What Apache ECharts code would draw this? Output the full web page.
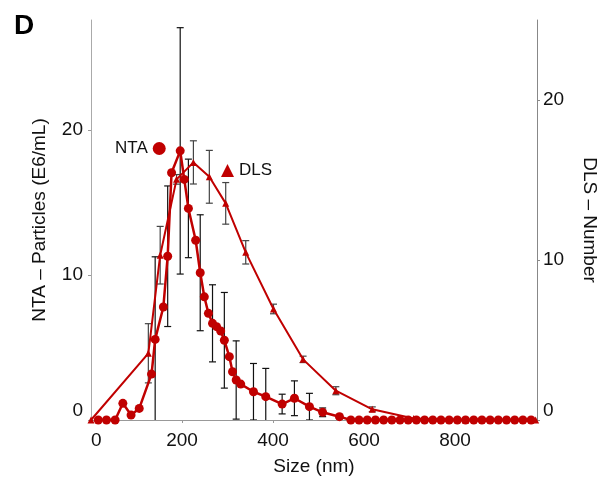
<!DOCTYPE html>
<html><head><meta charset="utf-8">
<script src="https://cdn.jsdelivr.net/npm/echarts@6/dist/echarts.min.js"></script>
<style>html,body{margin:0;padding:0;background:#fff}#c{width:610px;height:485px}</style>
</head><body><div id="c"></div>
<script>
const xTicks = [0, 200, 400, 600, 800];
const ntaX = [16,34,53,70,88,106,133,141,159,168.5,177,196,205,214,230,240,249,258,267,276,285,293,304,311,319,329,357,384,420,447,480,509,546,571,589,607,625,643,661,679,697,715,733,751,769,787,805,823,841,859,877,895,913,931,949,967];
const ntaY = [0,0,0,1.15,0.34,0.8,3.17,5.56,7.8,11.3,17.06,18.57,16.6,14.6,12.4,10.16,8.5,7.36,6.67,6.44,6.14,5.5,4.37,3.33,2.76,2.48,1.95,1.61,1.1,1.5,0.92,0.53,0.23,0,0,0,0,0,0,0,0,0,0,0,0,0,0,0,0,0,0,0,0,0,0,0];
const ntaErr = [0,0,0,0,0,0,0,5.7,0,4.85,0,8.5,0,3.4,0,4,0,0,2.66,0,0,3.3,0,0,2.7,0,1.95,1.95,0.68,1.2,0.92,0.3,0.15,0,0,0,0,0,0,0,0,0,0,0,0,0,0,0,0,0,0,0,0,0,0,0];
const dlsX = [0,126,152,188,225,260,296,340,401,466,538,618,709,823,977];
const dlsY = [0,4.17,10.3,15.04,16.1,15.2,13.54,10.48,6.94,3.79,1.83,0.67,0.1,0,0];
const dlsErr = [0,1.85,1.8,0.3,1.35,1.65,1.3,0.73,0.3,0.2,0.25,0.15,0,0,0];

const RED = '#c00000';
const FONT = 'Liberation Sans, Arial, sans-serif';

function errData(xs, ys, es) {
  const out = [];
  for (let i = 0; i < xs.length; i++) if (es[i] > 0) out.push([xs[i], ys[i] - es[i], ys[i] + es[i]]);
  return out;
}
function errRender(color) {
  return function (params, api) {
    const x = api.value(0);
    const lo = api.coord([x, api.value(1)]);
    const hi = api.coord([x, api.value(2)]);
    const w = 3.5;
    const st = { stroke: color, lineWidth: 1.2 };
    return { type: 'group', children: [
      { type: 'line', shape: { x1: lo[0], y1: lo[1], x2: hi[0], y2: hi[1] }, style: st },
      { type: 'line', shape: { x1: hi[0] - w, y1: hi[1], x2: hi[0] + w, y2: hi[1] }, style: st },
      { type: 'line', shape: { x1: lo[0] - w, y1: lo[1], x2: lo[0] + w, y2: lo[1] }, style: st }
    ]};
  };
}

const chart = echarts.init(document.getElementById('c'));
const axisLabel = { color: '#111', fontSize: 19, fontFamily: FONT };
chart.setOption({
  animation: false,
  textStyle: { fontFamily: FONT },
  title: { text: 'D', left: 9, top: 7, textStyle: { fontSize: 28, fontWeight: 'bold', color: '#000', fontFamily: FONT } },
  grid: { left: 91, right: 73, top: 20, bottom: 65 },
  legend: [
    { data: [{ name: 'NTA', icon: 'circle' }], left: 110, top: 135, align: 'right', itemWidth: 13, itemHeight: 13,
      textStyle: { fontSize: 17, color: '#111', fontFamily: FONT } },
    { data: [{ name: 'DLS', icon: 'triangle' }], left: 216, top: 157, align: 'left', itemWidth: 13, itemHeight: 13,
      textStyle: { fontSize: 17, color: '#111', fontFamily: FONT } }
  ],
  xAxis: {
    type: 'value', min: 0, max: 980, interval: 200,
    name: 'Size (nm)', nameLocation: 'middle', nameGap: 37,
    nameTextStyle: { fontSize: 19, color: '#111', fontFamily: FONT },
    axisLine: { lineStyle: { color: '#999', width: 1 } },
    axisTick: { show: true, length: 3, lineStyle: { color: '#999' } },
    axisLabel: Object.assign({}, axisLabel, { margin: 11, showMaxLabel: false, alignMinLabel: 'left',
      formatter: v => (xTicks.indexOf(v) >= 0 ? String(v) : '') }),
    splitLine: { show: false }
  },
  yAxis: [
    { type: 'value', min: 0, max: 27.6, interval: 10, position: 'left',
      name: 'NTA – Particles (E6/mL)', nameLocation: 'middle', nameGap: 42, nameRotate: 90,
      nameTextStyle: { fontSize: 19, color: '#111', fontFamily: FONT },
      axisLine: { show: true, lineStyle: { color: '#aaa', width: 1 } },
      axisTick: { show: true, length: 3, lineStyle: { color: '#999' } },
      axisLabel: Object.assign({}, axisLabel, { margin: 8, showMaxLabel: false, verticalAlignMinLabel: 'bottom',
        formatter: v => (v % 10 === 0 ? String(v) : '') }),
      splitLine: { show: false } },
    { type: 'value', min: 0, max: 25, interval: 10, position: 'right',
      name: 'DLS – Number', nameLocation: 'middle', nameGap: 43, nameRotate: -90,
      nameTextStyle: { fontSize: 19, color: '#111', fontFamily: FONT },
      axisLine: { show: true, lineStyle: { color: '#888', width: 1 } },
      axisTick: { show: true, length: 3, lineStyle: { color: '#888' } },
      axisLabel: Object.assign({}, axisLabel, { margin: 6, showMaxLabel: false, verticalAlignMinLabel: 'bottom',
        formatter: v => (v % 10 === 0 ? String(v) : '') }),
      splitLine: { show: false } }
  ],
  series: [
    { type: 'custom', name: 'ntaErr', yAxisIndex: 0, renderItem: errRender('#111'), data: errData(ntaX, ntaY, ntaErr), z: 1, clip: true, silent: true },
    { type: 'custom', name: 'dlsErr', yAxisIndex: 1, renderItem: errRender('#444'), data: errData(dlsX, dlsY, dlsErr), z: 1, clip: true, silent: true },
    { type: 'line', name: 'DLS', yAxisIndex: 1, data: dlsX.map((x, i) => [x, dlsY[i]]), symbol: 'triangle', symbolSize: 7,
      itemStyle: { color: RED }, lineStyle: { color: RED, width: 2 }, z: 3, clip: false },
    { type: 'line', name: 'NTA', yAxisIndex: 0, data: ntaX.map((x, i) => [x, ntaY[i]]), symbol: 'circle', symbolSize: 9,
      itemStyle: { color: RED }, lineStyle: { color: RED, width: 2.5 }, z: 4, clip: false }
  ]
});
</script></body></html>
